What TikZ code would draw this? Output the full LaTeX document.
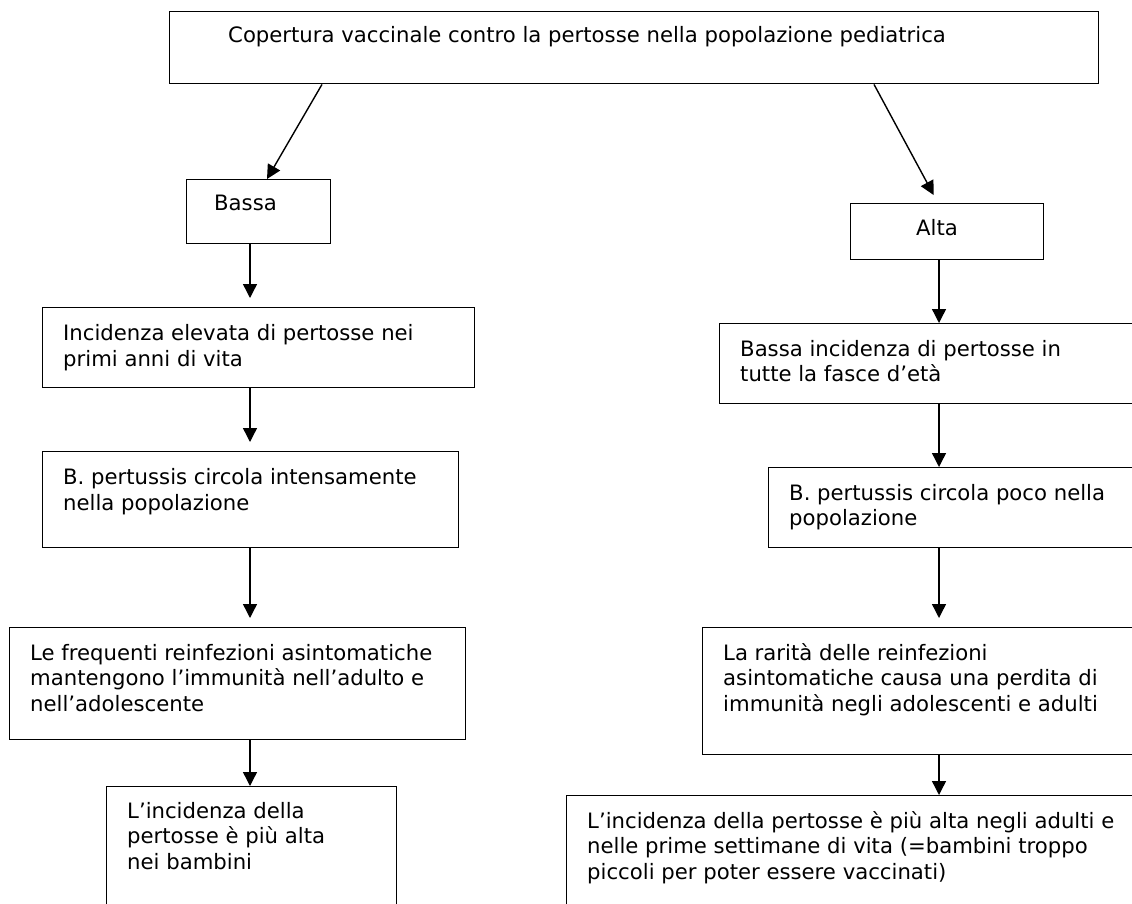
\documentclass[tikz,border=0pt]{standalone}
\usepackage{fontspec}
\setmainfont{DejaVu Sans}
\usepackage{tikz}
\usetikzlibrary{arrows.meta,positioning}

\begin{document}
\begin{tikzpicture}[x=1pt,y=-1pt,
    box/.style={draw,line width=1.4pt,anchor=north west,inner sep=0pt},
    txt/.style={anchor=base west,align=left,inner sep=0pt,font=\fontsize{21.2}{25.5}\selectfont},
    arr/.style={line width=1.4pt,-{Triangle[length=14pt,width=14pt]}}]
    \clip (0,0) rectangle (1132,904);
    \coordinate (colL) at (250,0);
    \coordinate (colR) at (939,0);

    % Copertura vaccinale
    \node[box,minimum width=929pt,minimum height=72pt] (cop) at (169,11) {};
    \node[txt] (copT) at ([shift={(59,32)}]cop.north west) {Copertura vaccinale contro la pertosse nella popolazione pediatrica};

    % Bassa / Alta
    \node[box,minimum width=144pt,minimum height=64pt] (bassa) at (186,179) {};
    \node[txt] (bassaT) at ([shift={(28,32)}]bassa.north west) {Bassa};
    \node[box,minimum width=193pt,minimum height=56pt] (alta) at (850,203) {};
    \node[txt,anchor=base] (altaT) at ([shift={(87,32)}]alta.north west) {Alta};

    % left branch (base = last line)
    \node[box,minimum width=432pt,minimum height=80pt] (L1) at (42,307) {};
    \node[txt] (L1T) at ([shift={(21,59)}]L1.north west) {Incidenza elevata di pertosse nei\\primi anni di vita};
    \node[box,minimum width=416pt,minimum height=96pt] (L2) at (42,451) {};
    \node[txt] (L2T) at ([shift={(21,59)}]L2.north west) {B. pertussis circola intensamente\\nella popolazione};
    \node[box,minimum width=456pt,minimum height=112pt] (L3) at (9,627) {};
    \node[txt] (L3T) at ([shift={(21,84)}]L3.north west) {Le frequenti reinfezioni asintomatiche\\mantengono l’immunità nell’adulto e\\nell’adolescente};
    \node[box,minimum width=290pt,minimum height=140pt] (L4) at (106,786) {};
    \node[txt] (L4T) at ([shift={(21,83)}]L4.north west) {L’incidenza della\\pertosse è più alta\\nei bambini};

    % right branch
    \node[box,minimum width=450pt,minimum height=80pt] (R1) at (719,323) {};
    \node[txt] (R1T) at ([shift={(21,58.5)}]R1.north west) {Bassa incidenza di pertosse in\\tutte la fasce d’età};
    \node[box,minimum width=400pt,minimum height=80pt] (R2) at (768,467) {};
    \node[txt] (R2T) at ([shift={(21,58.5)}]R2.north west) {B. pertussis circola poco nella\\popolazione};
    \node[box,minimum width=470pt,minimum height=127pt] (R3) at (702,627) {};
    \node[txt] (R3T) at ([shift={(21,84)}]R3.north west) {La rarità delle reinfezioni\\asintomatiche causa una perdita di\\immunità negli adolescenti e adulti};
    \node[box,minimum width=600pt,minimum height=140pt] (R4) at (566,795) {};
    \node[txt] (R4T) at ([shift={(21,84)}]R4.north west) {L’incidenza della pertosse è più alta negli adulti e\\nelle prime settimane di vita (=bambini troppo\\piccoli per poter essere vaccinati)};

    % arrows
    \draw[arr] ([xshift=153pt]cop.south west) -- ([xshift=81pt]bassa.north west);
    \draw[arr,shorten >=9pt] ([xshift=705pt]cop.south west) -- ([xshift=88pt]alta.north west);
    \draw[arr,shorten >=9pt] (bassa.south -| colL) -- (L1.north -| colL);
    \draw[arr,shorten >=9pt] (L1.south -| colL) -- (L2.north -| colL);
    \draw[arr,shorten >=9pt] (L2.south -| colL) -- (L3.north -| colL);
    \draw[arr] (L3.south -| colL) -- (L4.north -| colL);
    \draw[arr] (alta.south -| colR) -- (R1.north -| colR);
    \draw[arr] (R1.south -| colR) -- (R2.north -| colR);
    \draw[arr,shorten >=9pt] (R2.south -| colR) -- (R3.north -| colR);
    \draw[arr] (R3.south -| colR) -- (R4.north -| colR);
\end{tikzpicture}
\end{document}
